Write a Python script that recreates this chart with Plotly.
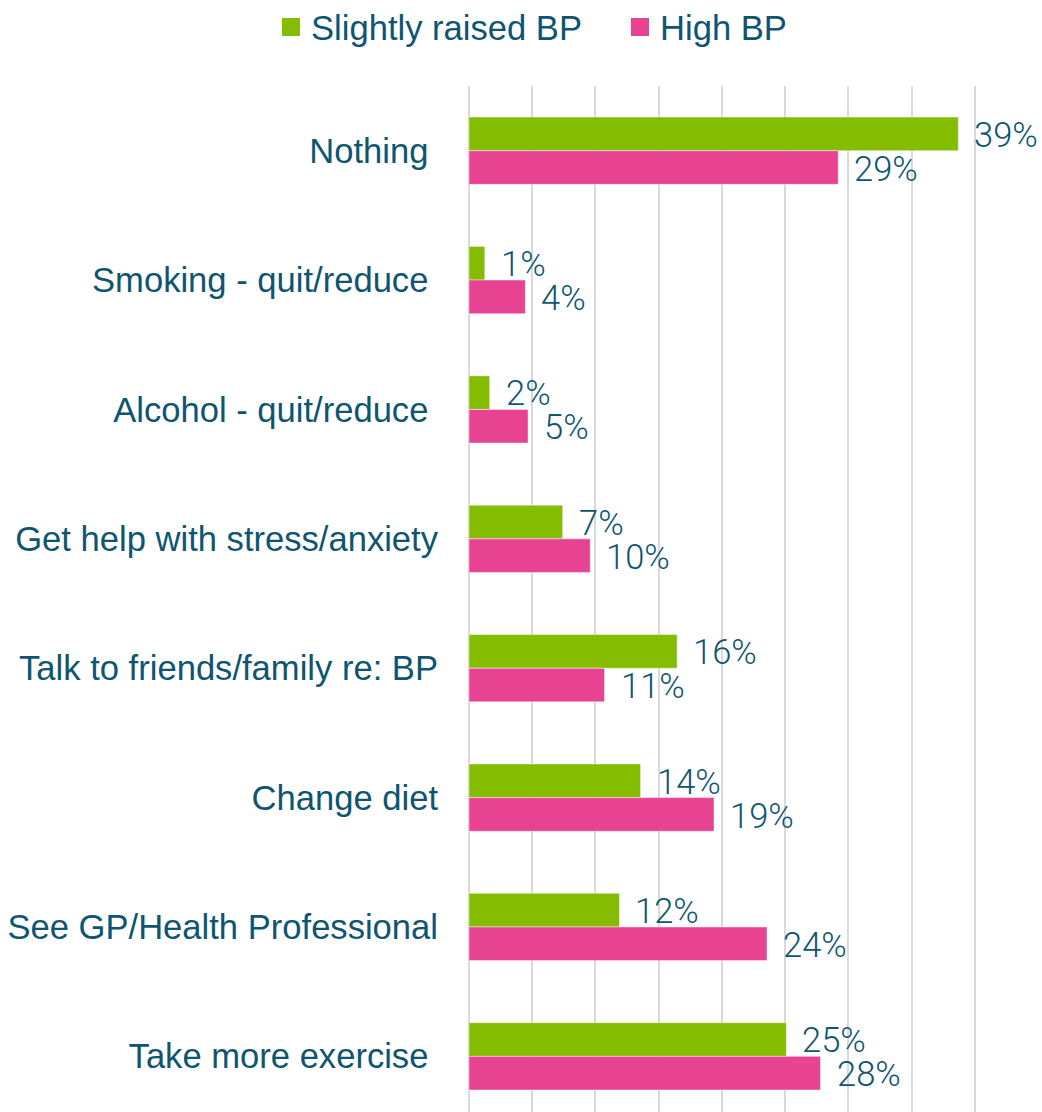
import plotly.graph_objects as go

# ---- data ----
categories = [
    "Nothing\u00a0",
    "Smoking - quit/reduce\u00a0",
    "Alcohol - quit/reduce\u00a0",
    "Get help with stress/anxiety",
    "Talk to friends/family re: BP",
    "Change diet",
    "See GP/Health Professional",
    "Take more exercise\u00a0",
]
series_names = ["Slightly raised BP", "High BP"]
slightly_raised = [38.7, 1.25, 1.64, 7.41, 16.46, 13.57, 11.9, 25.1]
high_bp = [29.2, 4.46, 4.67, 9.59, 10.72, 19.38, 23.57, 27.8]

GREEN = "#84BD00"
PINK = "#E84393"
TEXT = "#0F5570"
GRID = "#D9D9D9"
FONT = "Liberation Sans, Arial, sans-serif"

fig = go.Figure()
for name, vals, col, leg in [(series_names[0], slightly_raised, GREEN, "legend"),
                             (series_names[1], high_bp, PINK, "legend2")]:
    fig.add_trace(go.Bar(
        y=categories, x=vals, orientation="h", name=name,
        marker=dict(color=col, line=dict(color="rgba(255,255,255,0.45)", width=1)),
        showlegend=False, hoverinfo="x+y",
    ))
    # legend proxy with larger square swatch
    fig.add_trace(go.Scatter(
        x=[None], y=[None], mode="markers", name=name,
        marker=dict(symbol="square", size=16, color=col,
                    line=dict(width=2, color=col)),
        showlegend=True, legend=leg,
    ))

# value labels
for vals, shift in [(slightly_raised, 16), (high_bp, -18)]:
    for cat, v in zip(categories, vals):
        fig.add_annotation(
            x=v, y=cat, text=f"{round(v)}%", showarrow=False,
            xanchor="left", yanchor="middle", xshift=14, yshift=shift,
            font=dict(family="Roboto", size=34.5, color=TEXT, weight=300),
        )

legend_common = dict(
    orientation="h", xref="container", yref="container",
    xanchor="left", y=0.9758, yanchor="middle",
    font=dict(family=FONT, size=34.6, color=TEXT),
    itemclick=False, bgcolor="rgba(0,0,0,0)",
)

fig.update_layout(
    width=1042, height=1112,
    margin=dict(l=469, r=4, t=86, b=0),
    paper_bgcolor="white", plot_bgcolor="white",
    barmode="group", bargap=0.48, bargroupgap=0,
    font=dict(family=FONT, size=34.6, color=TEXT),
    legend=dict(x=271 / 1042, **legend_common),
    legend2=dict(x=620 / 1042, **legend_common),
    xaxis=dict(
        range=[0, 45], dtick=5, showticklabels=False,
        showgrid=True, gridcolor=GRID, gridwidth=2,
        zeroline=True, zerolinecolor=GRID, zerolinewidth=2,
        showline=False, fixedrange=True,
    ),
    yaxis=dict(
        range=[7.43, -0.5], showgrid=False, zeroline=False,
        ticks="", ticklabelstandoff=30,
        tickfont=dict(family=FONT, size=34.6, color=TEXT),
        fixedrange=True,
    ),
)

fig.write_html("out.html")
